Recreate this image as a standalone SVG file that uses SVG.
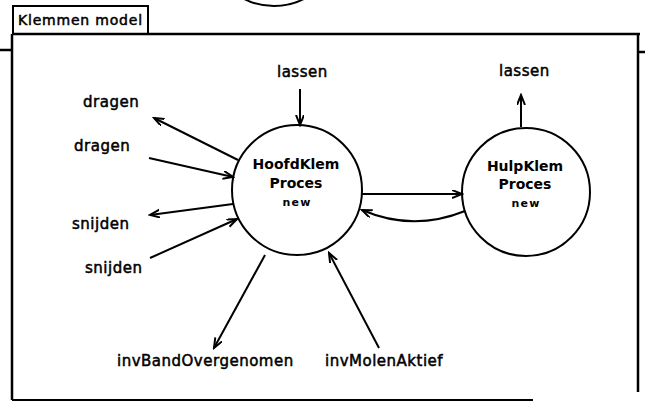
<svg xmlns="http://www.w3.org/2000/svg" width="645" height="402" viewBox="0 0 645 402">
  <style>
    .frame { fill: none; stroke: #000; stroke-width: 2.5; }
    .proc { fill: #fff; stroke: #000; stroke-width: 2; }
    .conn { fill: none; stroke: #000; stroke-width: 2; }
    .lbl { font-family: "DejaVu Sans", sans-serif; font-size: 15px; letter-spacing: 0.5px; fill: #000; stroke: #000; stroke-width: 0.5px; }
    .name { font-family: "DejaVu Sans", sans-serif; font-size: 14px; font-weight: bold; fill: #000; text-anchor: middle; }
    .tag { font-family: "DejaVu Sans", sans-serif; font-size: 11px; font-weight: bold; letter-spacing: 1.2px; fill: #000; text-anchor: middle; }
    .title { font-family: "DejaVu Sans", sans-serif; font-size: 14px; letter-spacing: 0.8px; fill: #000; stroke: #000; stroke-width: 0.5px; }
  </style>
  <defs>
    <marker id="arrow" markerWidth="12" markerHeight="10" refX="10" refY="4" orient="auto" markerUnits="userSpaceOnUse">
      <path d="M0,0 L10,4 L0,8" fill="none" stroke="#000" stroke-width="2"/>
    </marker>
  </defs>
  <rect width="645" height="402" fill="#fff"/>

  <!-- parent process, partly above the view -->
  <circle cx="274" cy="-59" r="65" class="proc"/>

  <!-- model frame with tab -->
  <g id="frame">
    <rect x="13" y="6" width="135" height="28" fill="#fff" stroke="#000" stroke-width="2"/>
    <text x="18" y="25" class="title">Klemmen model</text>
    <path d="M12,34 H640" class="frame"/>
    <path d="M12,34 V400" class="frame"/>
    <path d="M638,34 V392" class="frame"/>
    <path d="M12,400 H533" fill="none" stroke="#000" stroke-width="2"/>
    <path d="M0,50 H12" class="frame"/>
    <path d="M638,52 H645" class="frame"/>
  </g>

  <!-- processes -->
  <g id="hoofdklem">
    <circle cx="297" cy="190" r="65" class="proc"/>
    <text x="296" y="169" class="name">HoofdKlem</text>
    <text x="296" y="188" class="name">Proces</text>
    <text x="297" y="206" class="tag">new</text>
  </g>
  <g id="hulpklem">
    <circle cx="526" cy="192" r="64" class="proc"/>
    <text x="525" y="171" class="name">HulpKlem</text>
    <text x="525" y="189" class="name">Proces</text>
    <text x="526" y="207" class="tag">new</text>
  </g>

  <!-- external ports -->
  <g id="labels">
    <text x="277" y="77" class="lbl">lassen</text>
    <text x="499" y="76" class="lbl">lassen</text>
    <text x="83" y="107" class="lbl">dragen</text>
    <text x="74" y="151" class="lbl">dragen</text>
    <text x="72" y="229" class="lbl">snijden</text>
    <text x="85" y="273" class="lbl">snijden</text>
    <text x="117" y="366" class="lbl">invBandOvergenomen</text>
    <text x="325" y="366" class="lbl">invMolenAktief</text>
  </g>

  <!-- signal flows -->
  <g id="connectors">
    <line x1="300" y1="89" x2="300" y2="125" class="conn" marker-end="url(#arrow)"/>
    <line x1="521" y1="127" x2="521" y2="95" class="conn" marker-end="url(#arrow)"/>
    <line x1="238" y1="160" x2="154" y2="118" class="conn" marker-end="url(#arrow)"/>
    <line x1="149" y1="158" x2="233" y2="177" class="conn" marker-end="url(#arrow)"/>
    <line x1="233" y1="204" x2="150" y2="215" class="conn" marker-end="url(#arrow)"/>
    <line x1="150" y1="258" x2="237" y2="219" class="conn" marker-end="url(#arrow)"/>
    <line x1="265" y1="255" x2="214" y2="348" class="conn" marker-end="url(#arrow)"/>
    <line x1="379" y1="348" x2="329" y2="253" class="conn" marker-end="url(#arrow)"/>
    <line x1="362" y1="194" x2="462" y2="194" class="conn" marker-end="url(#arrow)"/>
    <path d="M465,211 Q413,232 362,210" class="conn" marker-end="url(#arrow)"/>
  </g>
</svg>
